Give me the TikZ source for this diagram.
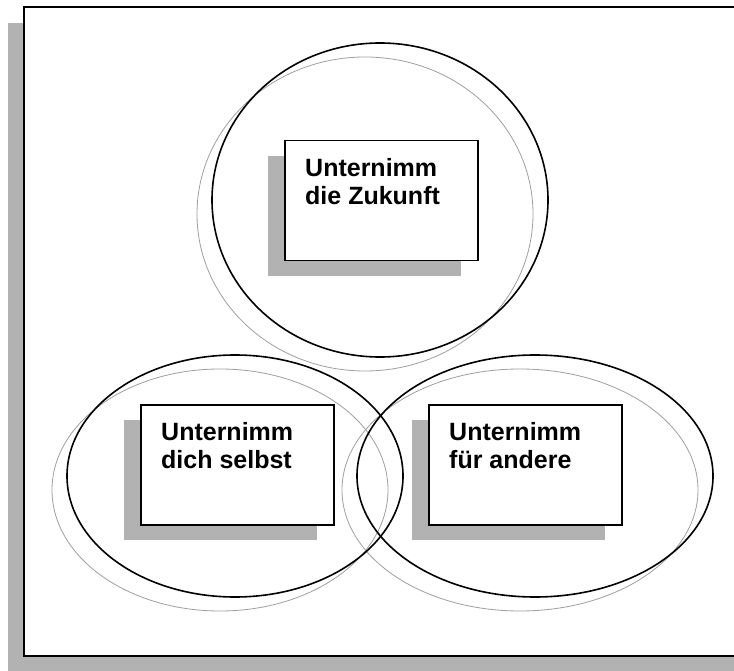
\documentclass[tikz,border=0pt]{standalone}
\usepackage{fontspec}
\setmainfont{Liberation Sans}
\usetikzlibrary{calc}

\tikzset{
  ring/.style={line width=1.6pt},
  ghost/.style={gray!75,line width=0.8pt},
  shade/.style={fill=gray!60},
  box/.style={draw,fill=white,line width=1.5pt,minimum width=193pt,minimum height=120pt,inner sep=0pt},
  label/.style={anchor=north west,inner sep=0pt,align=left,font=\bfseries\fontsize{25}{28}\selectfont}
}

\begin{document}
\begin{tikzpicture}[x=1pt,y=-1pt]
\useasboundingbox (0,0) rectangle (734,671);
\fill[shade] (8,23) rectangle (740,672);
\draw[fill=white,line width=2pt] (24,7) rectangle (740,656);

\draw[ghost] (365,214) ellipse [x radius=168,y radius=157];
\draw[ghost] (220,490) ellipse [x radius=168,y radius=121];
\draw[ghost] (520,490) ellipse [x radius=178,y radius=121];

\draw[ring] (380,200) ellipse [x radius=168,y radius=157];
\draw[ring] (235,476) ellipse [x radius=168,y radius=121];
\draw[ring] (535,476) ellipse [x radius=178,y radius=121];

\fill[shade] (268,156) rectangle (461,276);
\fill[shade] (124,420) rectangle (317,540);
\fill[shade] (412,420) rectangle (605,540);

\node[box,anchor=north west] (zukunft) at (284,140) {};
\node[box,anchor=north west] (selbst) at (140,404) {};
\node[box,anchor=north west] (andere) at (428,404) {};

\node[label] (zukunfttext) at ($(zukunft.north west)+(21,18)$) {Unternimm\\die Zukunft};
\node[label] (selbsttext) at ($(selbst.north west)+(21,18)$) {Unternimm\\dich selbst};
\node[label] (anderetext) at ($(andere.north west)+(21,18)$) {Unternimm\\für andere};
\end{tikzpicture}
\end{document}
